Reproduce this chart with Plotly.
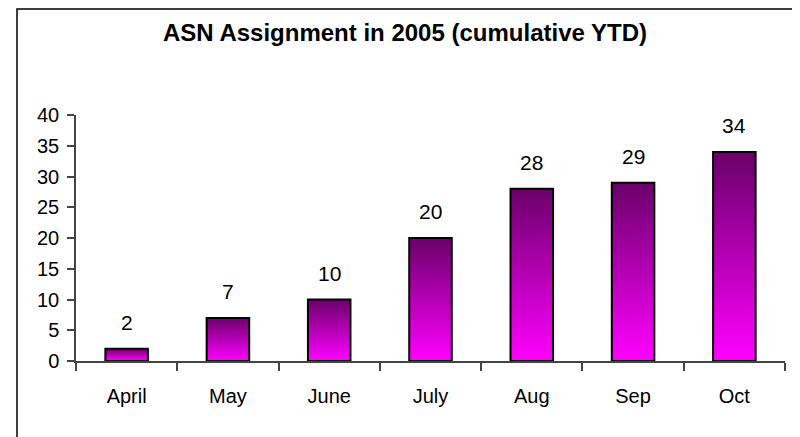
import plotly.graph_objects as go

# Data
months = ["April", "May", "June", "July", "Aug", "Sep", "Oct"]
asn_counts = [2, 7, 10, 20, 28, 29, 34]

# Look
W, H = 800, 437
OFF = 8  # page body margin the browser adds around the plot div
L, R, T, B = 76 - OFF, 15 + OFF, 115 - OFF, 76 + OFF
bar_half = 0.21
grad = [[0, "#ff00ff"], [1, "#6a006a"]]

# helpers: page pixel -> paper fraction
def px_x(p):
    return (p - OFF - L) / (W - L - R)

def px_y(p):
    return (H - B - (p - OFF)) / (H - T - B)

fig = go.Figure()

# bars as filled polygons so each gets its own vertical gradient
for i, v in enumerate(asn_counts):
    fig.add_trace(go.Scatter(
        x=[i - bar_half, i - bar_half, i + bar_half, i + bar_half, i - bar_half],
        y=[0, v, v, 0, 0],
        mode="lines",
        fill="toself",
        fillgradient=dict(type="vertical", colorscale=grad),
        line=dict(color="black", width=2),
        hoverinfo="skip",
        showlegend=False,
    ))
    fig.add_annotation(
        x=i, y=v, text=str(v), showarrow=False,
        yanchor="bottom", yshift=13,
        font=dict(family="Liberation Sans, Arial", size=21, color="black"),
    )

# outer frame (bottom edge falls outside the picture)
fig.add_shape(
    type="rect", xref="paper", yref="paper",
    x0=px_x(17), x1=px_x(797), y0=px_y(450), y1=px_y(OFF + 1),
    line=dict(color="black", width=1.5), fillcolor="rgba(0,0,0,0)",
    layer="below",
)

fig.update_layout(
    width=W, height=H,
    margin=dict(l=L, r=R, t=T, b=B),
    paper_bgcolor="white",
    plot_bgcolor="white",
    font=dict(family="Liberation Sans, Arial", size=20, color="black"),
    title=dict(
        text="<b>ASN Assignment in 2005 (cumulative YTD)</b>",
        x=(405 - OFF) / W, xref="container", xanchor="center",
        y=1 - (33 - OFF) / H, yref="container", yanchor="middle",
        font=dict(size=24, color="black"),
    ),
    xaxis=dict(
        range=[-0.5, len(months) - 0.5],
        tickmode="array",
        tickvals=list(range(len(months))),
        ticktext=months,
        ticks="outside", ticklen=0,
        ticklabelstandoff=16,
        minor=dict(
            tickmode="array",
            tickvals=[i - 0.5 for i in range(len(months) + 1)],
            ticks="outside", ticklen=8, tickcolor="#444", tickwidth=1.5,
        ),
        showline=True, linecolor="#444", linewidth=1.5,
        showgrid=False, zeroline=False, fixedrange=True,
    ),
    yaxis=dict(
        range=[0, 40],
        tickmode="linear", tick0=0, dtick=5,
        ticks="outside", ticklen=7, tickcolor="#444", tickwidth=1.5,
        ticklabelstandoff=4,
        showline=True, linecolor="#444", linewidth=1.5,
        showgrid=False, zeroline=False, fixedrange=True,
    ),
)

fig.write_html("out.html")
